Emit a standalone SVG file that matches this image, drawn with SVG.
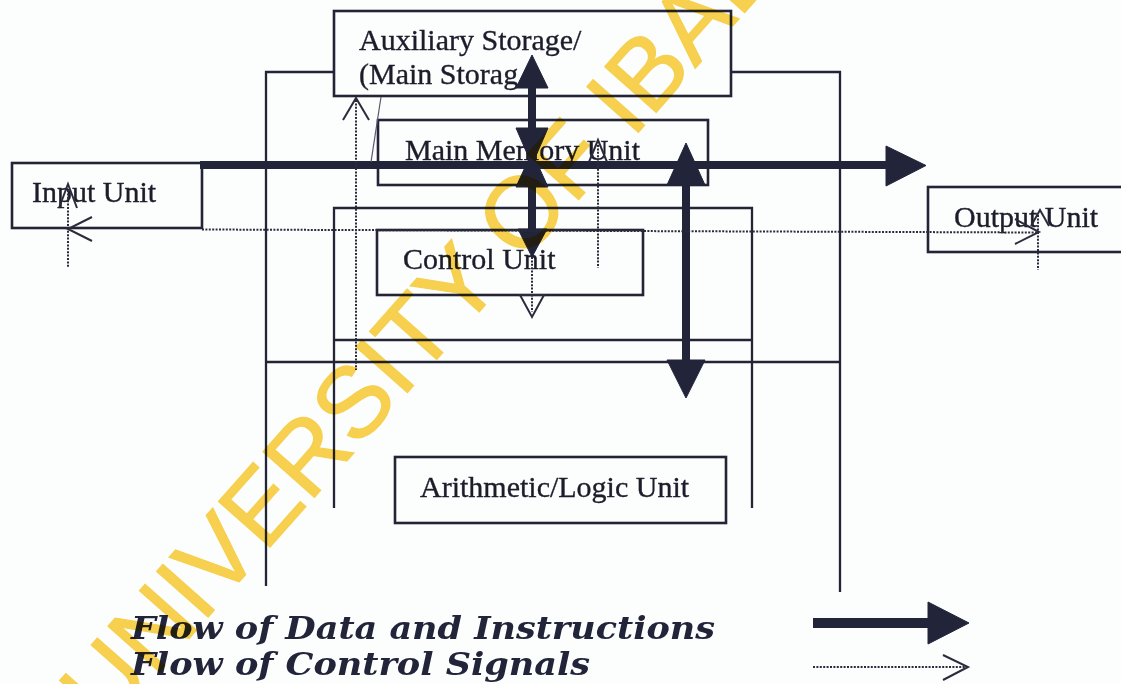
<svg xmlns="http://www.w3.org/2000/svg" width="1121" height="684" viewBox="0 0 1121 684">
<defs>
<style>
.box{fill:none;stroke:#232536;stroke-width:2.6}
.frame{fill:none;stroke:#232536;stroke-width:2.3}
.lbl{font-family:"Liberation Serif","Times New Roman",serif;font-size:30px;fill:#1c1d2b;stroke:#1c1d2b;stroke-width:0.35}
.data{stroke:#22243a;stroke-width:8;fill:none}
.head{fill:#22243a;stroke:#22243a;stroke-width:1;stroke-linejoin:round}
.ctrl{stroke:#2a2c3c;stroke-width:2;stroke-dasharray:2 1.4;fill:none}
.open{stroke:#2a2c3c;stroke-width:2;fill:none}
.thin{stroke:#55576a;stroke-width:1.2;fill:none}
.legend{font-family:"DejaVu Serif","Liberation Serif",serif;font-weight:bold;font-style:italic;font-size:32px;fill:#22243a}
.wm{font-family:"Liberation Sans",Arial,sans-serif;font-size:100px;fill:#F9D24E;stroke:#F9D24E;stroke-width:1.2;mix-blend-mode:multiply}
</style>
</defs>
<rect width="1121" height="684" fill="#fcfdfd"/>

<g id="cpu-frame">
<polyline class="frame" points="266,586 266,72 334,72"/>
<polyline class="frame" points="731,72 840,72 840,592"/>
<polyline class="frame" points="334,508 334,208 752,208 752,508"/>
<line class="frame" x1="334" y1="340" x2="752" y2="340"/>
<line class="frame" x1="266" y1="362" x2="840" y2="362"/>
</g>

<g id="auxiliary-storage">
<rect class="box" x="334" y="11" width="397" height="85"/>
<text class="lbl" x="359" y="50">Auxiliary Storage/</text>
<text class="lbl" x="359" y="84">(Main Storag</text>
</g>

<g id="main-memory-unit">
<rect class="box" x="378" y="120" width="330" height="65"/>
<text class="lbl" x="405" y="160">Main Memory Unit</text>
</g>

<g id="control-unit">
<rect class="box" x="377" y="230" width="266" height="65"/>
<text class="lbl" x="403" y="269">Control Unit</text>
</g>

<g id="alu">
<rect class="box" x="395" y="457" width="331" height="66"/>
<text class="lbl" x="420" y="497">Arithmetic/Logic Unit</text>
</g>

<g id="input-unit">
<rect class="box" x="12" y="163" width="190" height="65"/>
<text class="lbl" x="32" y="202">Input Unit</text>
</g>

<g id="output-unit">
<rect class="box" x="928" y="187" width="200" height="65"/>
<text class="lbl" x="954" y="227">Output Unit</text>
</g>

<g id="connectors">
<line class="data" x1="200" y1="165" x2="890" y2="165"/>
<polygon class="head" points="926,165.5 886,146 886,186"/>
<line class="data" x1="532" y1="80" x2="532" y2="235"/>
<polygon class="head" points="532,55 516,88 548,88"/>
<polygon class="head" points="516,128 548,128 532,165"/>
<polygon class="head" points="516,187 548,187 532,152"/>
<polygon class="head" points="518,229 547,229 532,257"/>
<line class="data" x1="686" y1="175" x2="686" y2="368"/>
<polygon class="head" points="686,143 667,185 705,185"/>
<polygon class="head" points="667,360 705,360 686,398"/>
<line class="ctrl" x1="202" y1="229.5" x2="1038" y2="232.5"/>
<line class="ctrl" x1="68" y1="190" x2="68" y2="268"/>
<polyline class="open" points="92,217 68,229 92,241"/>
<polyline class="open" points="59,208 68,184 77,208"/>
<line class="ctrl" x1="356" y1="100" x2="356" y2="370"/>
<polyline class="open" points="343,120 356,98 369,120"/>
<line class="ctrl" x1="598" y1="145" x2="598" y2="268"/>
<polyline class="open" points="589,162 598,140 607,162"/>
<line class="ctrl" x1="532" y1="257" x2="532" y2="312"/>
<polygon class="open" points="520,295 544,295 532,317"/>
<line class="ctrl" x1="1038" y1="215" x2="1038" y2="270"/>
<polyline class="open" points="1015,219 1039,232 1015,244"/>
<polyline class="open" points="1031,226 1040,210 1049,226"/>
<line class="thin" x1="381" y1="97" x2="371" y2="162"/>
</g>

<g id="legend">
<text class="legend" x="131" y="639" textLength="584" lengthAdjust="spacingAndGlyphs">Flow of Data and Instructions</text>
<text class="legend" x="131" y="675" textLength="459" lengthAdjust="spacingAndGlyphs">Flow of Control Signals</text>
<line class="data" x1="813" y1="623" x2="935" y2="623" style="stroke-width:10"/>
<polygon class="head" points="969,623 928,602 928,644"/>
<line class="ctrl" x1="813" y1="667" x2="966" y2="667"/>
<polyline class="open" points="943,655 968,667 943,680"/>
</g>

<text class="wm" transform="translate(106,732) rotate(-48.4)">UNIVERSITY OF IBADAN</text>
</svg>
